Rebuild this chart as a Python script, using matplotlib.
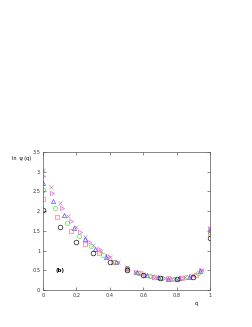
import matplotlib
matplotlib.use("Agg")
import matplotlib.pyplot as plt
import numpy as np

# series: q positions and ln psi(q) values
q_k = [0, 0.1, 0.2, 0.3, 0.4, 0.5, 0.6, 0.7, 0.8, 0.9, 1.0]
v_k = [2.03, 1.6, 1.23, 0.94, 0.7, 0.52, 0.38, 0.3, 0.28, 0.34, 1.33]

q_r = [0, 1/12, 2/12, 3/12, 4/12, 5/12, 6/12, 7/12, 8/12, 9/12, 10/12, 11/12, 1.0]
v_r = [2.3, 1.85, 1.49, 1.17, 0.93, 0.72, 0.54, 0.43, 0.33, 0.3, 0.3, 0.37, 1.43]

q_g = [0, 1/14, 2/14, 3/14, 4/14, 5/14, 6/14, 7/14, 8/14, 9/14, 10/14, 11/14, 12/14, 13/14, 1.0]
v_g = [2.53, 2.08, 1.7, 1.38, 1.12, 0.9, 0.72, 0.55, 0.44, 0.36, 0.31, 0.29, 0.32, 0.43, 1.47]

q_b = [0, 1/16, 2/16, 3/16, 4/16, 5/16, 6/16, 7/16, 8/16, 9/16, 10/16, 11/16, 12/16, 13/16, 14/16, 15/16, 1.0]
v_b = [2.72, 2.27, 1.9, 1.57, 1.3, 1.05, 0.85, 0.7, 0.56, 0.45, 0.37, 0.32, 0.29, 0.3, 0.34, 0.48, 1.52]

q_m = [0, 1/18, 2/18, 3/18, 4/18, 5/18, 6/18, 7/18, 8/18, 9/18, 10/18, 11/18, 12/18, 13/18, 14/18, 15/18, 16/18, 17/18, 1.0]
v_m = [2.9, 2.45, 2.08, 1.75, 1.47, 1.23, 1.03, 0.86, 0.7, 0.57, 0.46, 0.38, 0.33, 0.3, 0.29, 0.31, 0.36, 0.52, 1.55]

q_x = [0, 0.05, 0.1, 0.15, 0.2, 0.25, 0.3, 0.35, 0.4, 0.45, 0.5, 0.55, 0.6, 0.65, 0.7, 0.75, 0.8, 0.85, 0.9, 0.95, 1.0]
v_x = [3.05, 2.62, 2.22, 1.88, 1.6, 1.35, 1.15, 0.98, 0.84, 0.7, 0.58, 0.47, 0.4, 0.35, 0.31, 0.29, 0.29, 0.32, 0.37, 0.5, 1.57]

xticks = [0, 0.2, 0.4, 0.6, 0.8, 1]
xticklabels = ["0", "0.2", "0.4", "0.6", "0.8", "1"]
yticks = [0, 0.5, 1, 1.5, 2, 2.5, 3, 3.5]
yticklabels = ["0", "0.5", "1", "1.5", "2", "2.5", "3", "3.5"]

fig = plt.figure(figsize=(2.53, 3.27), dpi=100)
ax = fig.add_axes([0.170, 0.113, 0.660, 0.422])

ms = 3.0
mew = 0.45
ax.plot(q_x, v_x, ls="none", marker="x", ms=2.3, mew=mew, color="#c09090")
ax.plot(q_m, v_m, ls="none", marker=">", ms=ms, mew=mew, mfc="none", mec="#ff40ff")
ax.plot(q_b, v_b, ls="none", marker="^", ms=ms, mew=mew, mfc="none", mec="#4040ff")
ax.plot(q_g, v_g, ls="none", marker="o", ms=ms, mew=mew, mfc="none", mec="#40e040")
ax.plot(q_r, v_r, ls="none", marker="s", ms=ms - 0.3, mew=mew, mfc="none", mec="#ff7070")
ax.plot(q_k, v_k, ls="none", marker="o", ms=ms + 0.4, mew=mew, mfc="none", mec="#000000")

ax.set_xlim(0, 1)
ax.set_ylim(0, 3.5)
ax.set_xticks(xticks)
ax.set_xticklabels(xticklabels)
ax.set_yticks(yticks)
ax.set_yticklabels(yticklabels)
ax.tick_params(direction="in", length=2.5, width=0.4, labelsize=3.6, pad=2,
               top=True, right=True, colors="#333333")
for s in ax.spines.values():
    s.set_linewidth(0.5)
    s.set_color("#555555")

ax.text(0.1, 0.5, "(b)", fontsize=4, fontweight="bold", ha="center", va="center")
fig.text(12 / 253, 1 - 158 / 327, "ln  \u03c8 (q)", fontsize=3.5, ha="left", va="center")
fig.text(196 / 253, 1 - 303 / 327, "q", fontsize=3.6, ha="center", va="center")

fig.savefig("out.png", dpi=100)
